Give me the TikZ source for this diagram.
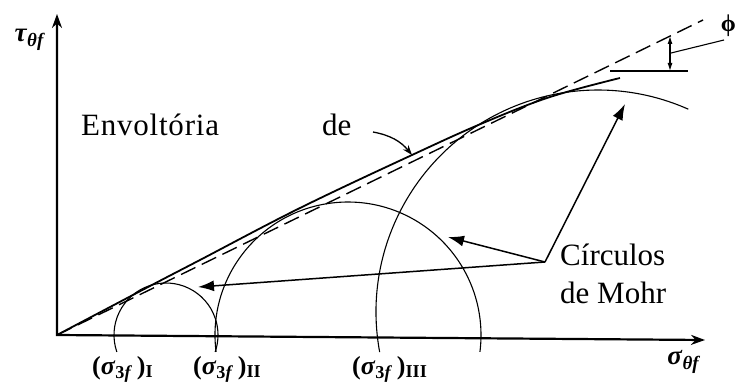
\documentclass[tikz,border=0pt]{standalone}
\usepackage{fontspec}
\setmainfont{Liberation Serif}
\usetikzlibrary{arrows.meta}
\begin{document}
\begin{tikzpicture}[x=1pt,y=1pt,
  axis/.style={line width=2.2pt,line join=miter},
  env/.style={line width=1.8pt},
  straight/.style={line width=1.4pt,dash pattern=on 16pt off 7pt},
  circ/.style={line width=1.1pt},
  pointer/.style={line width=1.5pt,-{Latex[length=16pt,width=11pt]}},
  thinline/.style={line width=1.1pt},
  lbl/.style={font=\fontsize{31}{37}\selectfont, inner sep=0pt},
  sublbl/.style={font=\fontsize{26}{30}\selectfont\bfseries, inner sep=0pt},
  axlbl/.style={font=\fontsize{27}{31}\selectfont\bfseries, inner sep=0pt},
]
\useasboundingbox (0,0) rectangle (736,381);

% axes
\coordinate (O) at (57,46);
\coordinate (ytop) at (57,367);
\coordinate (xend) at (705,41);
\draw[axis,{Stealth[length=14pt,width=10pt]}-{Stealth[length=14pt,width=10pt]}] (ytop) -- (O) -- (xend);

% Mohr circles
\coordinate (c1) at (166,46);
\coordinate (c2) at (348,46);
\coordinate (c3) at (598,69);
\draw[circ] (c1) ++(199:52) arc[start angle=199,end angle=-19,radius=52];
\draw[circ] (c2) ++(187.3:133) arc[start angle=187.3,end angle=-7.3,radius=133];
\draw[circ] (c3) ++(190.4:222) arc[start angle=190.4,end angle=66,radius=222];

% envelope (curved) and straight approximation
\draw[env] plot[smooth,tension=0.6] coordinates {(57,46) (150,95) (200,121) (300,173) (412,226) (483,258) (550,284) (620,303)};
\coordinate (dend) at (703,361);
\draw[straight] (O) -- (dend);

% friction angle construction
\coordinate (h1) at (610,310);
\coordinate (h2) at (688,310);
\draw[thinline] (h1) -- (h2);
\coordinate (pa) at (670,310);
\coordinate (pb) at (670,345);
\draw[thinline,{Latex[length=8pt,width=5pt]}-{Latex[length=8pt,width=5pt]}] (pa) -- (pb);
\coordinate (lead) at (671,328);
\node[anchor=east,inner sep=0pt,font=\fontsize{24}{28}\selectfont\bfseries] (phi) at (736,355) {ϕ};
\coordinate (leadend) at (724,341);
\draw[thinline] (lead) -- (leadend);

% texts
\node[lbl,anchor=base west] (env1) at (81,246) {\addfontfeature{LetterSpace=2.5}Envoltória};
\node[lbl,anchor=base west] (env2) at (322,246) {de};
\node[lbl,anchor=base west] (circa) at (560,116) {Círculos};
\node[lbl,anchor=base west] (circb) at (560,78) {de Mohr};

% "de" arrow to envelope
\coordinate (da) at (373,249);
\coordinate (db) at (412,226);
\draw[line width=1.3pt,-{Stealth[length=10pt,width=7pt]}] (da) to[bend left=20] (db);

% arrows to the circles
\coordinate (src) at (545,119);
\coordinate (t1) at (198,94);
\coordinate (t2) at (448,144);
\coordinate (t3) at (625,277);
\draw[pointer] (src) -- (t1);
\draw[pointer] (src) -- (t2);
\draw[pointer] (src) -- (t3);

% axis labels
\node[axlbl] (tau) at (30,341) {\textit{τ}\textsubscript{\textit{θf}}};
\node[axlbl] (sig) at (684,19) {\textit{σ}\textsubscript{\textit{θf}}};
\node[sublbl,anchor=base west] (s1) at (92,7) {(\textit{σ}\textsubscript{3\textit{f}}\,)\textsubscript{I}};
\node[sublbl,anchor=base west] (s2) at (193,7) {(\textit{σ}\textsubscript{3\textit{f}}\,)\textsubscript{II}};
\node[sublbl,anchor=base west] (s3) at (352,7) {(\textit{σ}\textsubscript{3\textit{f}}\,)\textsubscript{III}};
\end{tikzpicture}
\end{document}
